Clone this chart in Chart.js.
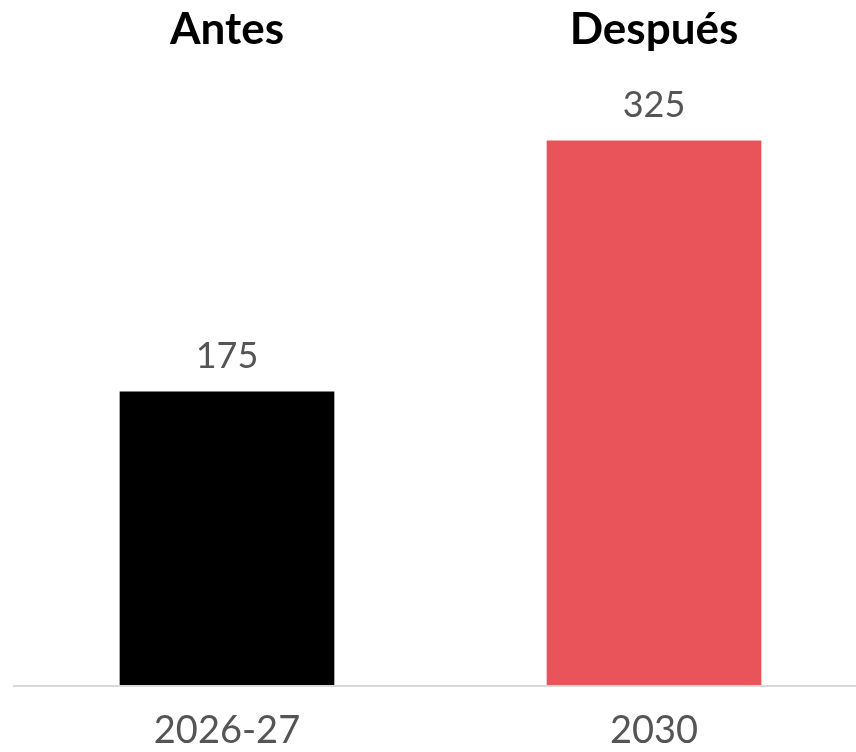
<!DOCTYPE html>
<html lang="es">
<head>
  <meta charset="UTF-8">
  <title>Antes / Después</title>
  <script src="https://cdn.jsdelivr.net/npm/chart.js"></script>
  <style>
    html, body { margin: 0; padding: 0; background: #fff; }
    #wrap { width: 856px; height: 752px; }
  </style>
</head>
<body>
  <div id="wrap"><canvas id="chart"></canvas></div>

  <script>
    // chart data
    const periods = ['2026-27', '2030'];
    const headers = ['Antes', 'Después'];
    const values = [175, 325];
    const barColors = ['#000000', '#e9535a'];

    const FONT = 'Lato, "Noto Sans", sans-serif';

    // value above each bar
    const valueLabels = {
      id: 'valueLabels',
      afterDatasetsDraw(chart) {
        const ctx = chart.ctx;
        const meta = chart.getDatasetMeta(0);
        ctx.save();
        ctx.font = '36px ' + FONT;
        ctx.fillStyle = '#555555';
        ctx.textAlign = 'center';
        ctx.textBaseline = 'alphabetic';
        meta.data.forEach((bar, i) => {
          ctx.fillText(String(values[i]), bar.x, bar.y - 24);
        });
        ctx.restore();
      }
    };

    // thin grey baseline running across the whole width
    const baseline = {
      id: 'baseline',
      afterDatasetsDraw(chart) {
        const ctx = chart.ctx;
        const y = chart.scales.y.getPixelForValue(0);
        ctx.save();
        ctx.strokeStyle = '#d9d9d9';
        ctx.lineWidth = 2;
        ctx.beginPath();
        ctx.moveTo(13, y + 1);
        ctx.lineTo(chart.width, y + 1);
        ctx.stroke();
        ctx.restore();
      }
    };

    new Chart(document.getElementById('chart'), {
      type: 'bar',
      data: {
        labels: periods,
        datasets: [{
          data: values,
          backgroundColor: barColors,
          barThickness: 214,
          clip: false,
          xAxisID: 'x'
        }]
      },
      options: {
        responsive: true,
        maintainAspectRatio: false,
        animation: false,
        layout: { padding: { left: 227, right: 202, top: 0, bottom: 0 } },
        plugins: {
          legend: { display: false },
          tooltip: { enabled: false }
        },
        scales: {
          x: {
            offset: false,
            grid: { display: false, drawTicks: false },
            border: { display: false },
            afterFit(scale) { scale.height = 67; },
            ticks: {
              padding: 27,
              color: '#555555',
              font: { family: FONT, size: 38, lineHeight: 1 },
              maxRotation: 0
            }
          },
          x2: {
            type: 'category',
            labels: headers,
            position: 'top',
            offset: false,
            grid: { display: false, drawTicks: false },
            border: { display: false },
            afterFit(scale) { scale.height = 57; },
            ticks: {
              padding: 5,
              color: '#000000',
              font: { family: FONT, size: 44, weight: 'bold', lineHeight: 1 },
              maxRotation: 0
            }
          },
          y: {
            display: false,
            min: 0,
            max: 375
          }
        }
      },
      plugins: [valueLabels, baseline]
    });
  </script>
</body>
</html>
